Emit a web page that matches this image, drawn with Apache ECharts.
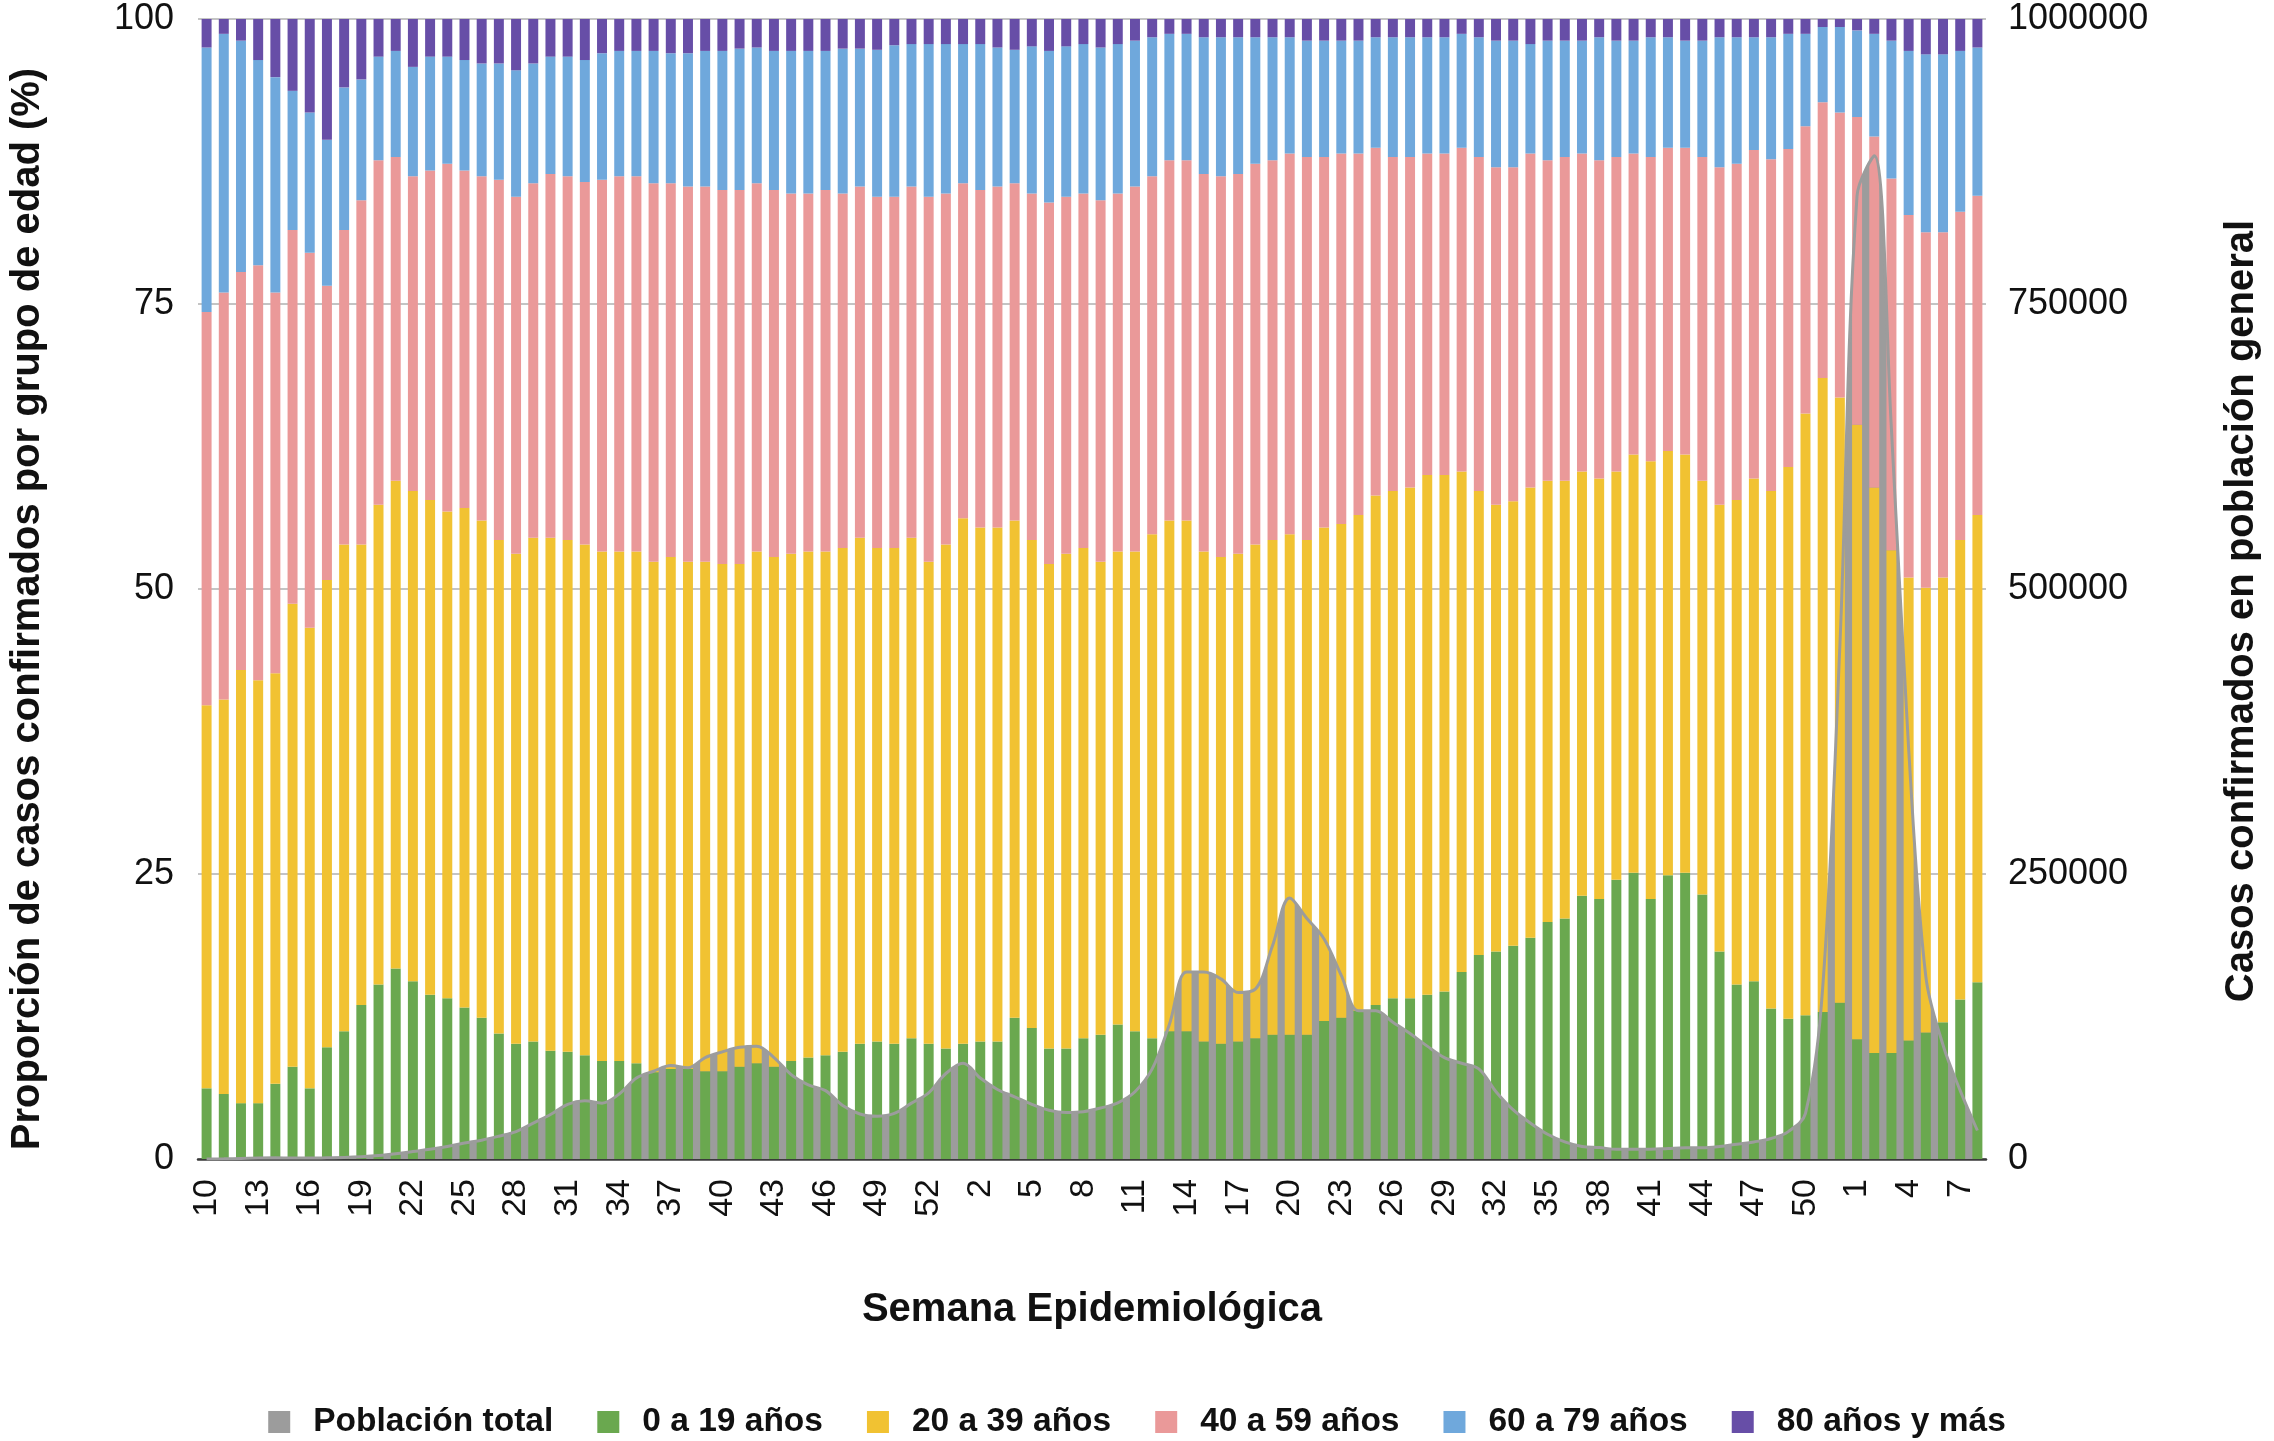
<!DOCTYPE html>
<html><head><meta charset="utf-8">
<script src="https://cdn.jsdelivr.net/npm/echarts@6/dist/echarts.min.js"></script>
<style>html,body{margin:0;padding:0;background:#fff}#c{width:2274px;height:1441px}</style>
</head><body><div id="c"></div>
<script>
// Epidemiological weeks (2020: 10-53, 2021: 1-52, 2022: 1-8)
const weeks2020 = [10,11,12,13,14,15,16,17,18,19,20,21,22,23,24,25,26,27,28,29,30,31,32,33,34,35,36,37,38,39,40,41,42,43,44,45,46,47,48,49,50,51,52,53];
const weeks2021 = [1,2,3,4,5,6,7,8,9,10,11,12,13,14,15,16,17,18,19,20,21,22,23,24,25,26,27,28,29,30,31,32,33,34,35,36,37,38,39,40,41,42,43,44,45,46,47,48,49,50,51,52];
const weeks2022 = [1,2,3,4,5,6,7,8];

// Proportion of confirmed cases by age group (%)
const age0_19 = [6.2,5.7,4.9,4.9,6.6,8.1,6.2,9.8,11.2,13.5,15.3,16.7,15.6,14.4,14.1,13.3,12.4,11.0,10.1,10.3,9.5,9.4,9.1,8.6,8.6,8.4,7.6,7.9,7.9,7.7,7.7,8.1,8.4,8.1,8.6,8.9,9.1,9.4,10.1,10.3,10.1,10.6,10.1,9.7,
  10.1,10.3,10.3,12.4,11.5,9.7,9.7,10.6,10.9,11.8,11.2,10.6,11.2,11.2,10.3,10.1,10.3,10.6,10.9,10.9,10.9,12.1,12.4,13.0,13.5,14.1,14.1,14.4,14.7,16.4,17.9,18.2,18.7,19.4,20.8,21.1,23.1,22.8,24.5,25.1,22.8,24.9,25.1,23.2,18.2,15.3,15.6,13.2,12.3,12.6,12.9,13.7,
  10.5,9.3,9.3,10.4,11.1,12.0,14.0,15.5];
const age20_39 = [33.6,34.6,38.0,37.1,36.0,40.6,40.4,41.0,42.7,40.4,42.1,42.8,43.0,43.4,42.7,43.8,43.6,43.3,43.0,44.2,45.0,44.9,44.8,44.7,44.7,44.9,44.8,44.9,44.5,44.7,44.5,44.1,44.9,44.7,44.5,44.4,44.2,44.2,44.4,43.3,43.5,43.9,42.3,44.2,
  46.1,45.1,45.1,43.6,42.8,42.5,43.4,43.0,41.5,41.5,42.1,44.2,44.8,44.8,43.0,42.7,42.8,43.3,43.4,43.9,43.4,43.3,43.3,43.5,44.7,44.5,44.8,45.6,45.3,43.9,40.7,39.2,39.0,39.5,38.7,38.4,37.2,36.9,35.8,36.7,38.4,37.2,36.7,36.3,39.2,42.5,44.1,45.4,48.4,52.8,55.6,53.1,
  53.9,49.6,44.1,40.6,39.0,39.0,40.3,41.0];
const age40_59 = [34.5,35.7,34.9,36.4,33.4,32.8,32.9,25.8,27.6,30.2,30.2,28.4,27.6,28.9,30.5,29.6,30.2,31.6,31.3,31.1,31.9,31.9,31.8,32.6,32.9,32.9,33.2,32.8,32.9,32.9,32.8,32.8,32.3,32.2,31.6,31.4,31.7,31.1,30.8,30.8,30.8,30.8,32.0,30.8,
  29.4,29.6,29.9,29.6,30.4,31.7,31.3,31.1,31.7,31.4,32.0,31.4,31.6,31.6,33.1,33.4,33.3,33.4,33.3,33.4,33.6,32.5,32.5,31.7,30.5,29.3,29.0,28.2,28.2,28.4,29.3,29.6,29.3,29.3,28.1,28.4,27.9,27.9,27.6,26.4,26.7,26.6,26.9,28.4,29.6,29.5,28.8,29.1,27.9,25.2,24.2,25.0,
  27.0,30.8,32.6,31.8,31.2,30.3,28.8,28.0];
const age60_79 = [23.2,22.7,20.3,18.0,18.9,12.2,12.3,12.8,12.5,10.6,9.1,9.3,9.6,10.0,9.4,9.7,9.9,10.2,11.1,10.5,10.3,10.5,10.7,11.1,11.0,11.0,11.6,11.4,11.7,11.9,12.2,12.4,11.9,12.2,12.5,12.5,12.2,12.7,12.1,12.9,13.3,12.5,13.4,13.1,
  12.2,12.8,12.2,11.7,12.9,13.3,13.2,13.1,13.4,13.1,12.8,12.2,11.1,11.1,12.0,12.2,12.0,11.1,10.8,10.2,10.2,10.2,9.9,9.9,9.7,10.5,10.5,10.2,10.2,10.0,10.5,11.1,11.1,9.6,10.5,10.2,9.9,10.8,10.2,9.9,10.5,9.7,9.4,10.2,11.4,11.1,9.9,10.7,10.1,8.1,6.6,7.5,
  7.6,9.0,12.1,14.4,15.6,15.6,14.1,13.0];
const age80plus = [2.5,1.3,1.9,3.6,5.1,6.3,8.2,10.6,6.0,5.3,3.3,2.8,4.2,3.3,3.3,3.6,3.9,3.9,4.5,3.9,3.3,3.3,3.6,3.0,2.8,2.8,2.8,3.0,3.0,2.8,2.8,2.6,2.5,2.8,2.8,2.8,2.8,2.6,2.6,2.7,2.3,2.2,2.2,2.2,
  2.2,2.2,2.5,2.7,2.4,2.8,2.4,2.2,2.5,2.2,1.9,1.6,1.3,1.3,1.6,1.6,1.6,1.6,1.6,1.6,1.9,1.9,1.9,1.9,1.6,1.6,1.6,1.6,1.6,1.3,1.6,1.9,1.9,2.2,1.9,1.9,1.9,1.6,1.9,1.9,1.6,1.6,1.9,1.9,1.6,1.6,1.6,1.6,1.3,1.3,0.7,0.7,
  1.0,1.3,1.9,2.8,3.1,3.1,2.8,2.5];

// Confirmed cases in general population (weekly)
const totalCases = [20,150,500,900,1000,900,800,1100,1400,2000,3000,4600,6600,8500,11000,14000,16500,20000,24000,31500,39000,48000,51000,49000,57000,71000,77000,82000,80000,89000,94000,98000,99000,89000,74000,65000,60000,47000,39500,37500,40000,49000,58000,75000,
  84000,71000,61000,54600,48000,42800,40800,41500,44700,49300,59000,79000,118000,164000,164000,158000,146000,149000,187000,229000,211000,193000,161000,130000,130000,120000,110000,99000,89000,84000,79000,59000,43000,31500,21700,15000,11000,10000,8500,8500,8500,9200,9900,9900,11000,13000,15000,18000,24000,40000,150000,450000,
  845000,880000,640000,360000,160000,100000,60000,25000];

const leftTicks = [0,25,50,75,100];
const rightTicks = [0,250000,500000,750000,1000000];

const categories = weeks2020.concat(weeks2021, weeks2022).map(String);

const FONT = "'Liberation Sans', Arial, Helvetica, sans-serif";
const C = {gray:'#9c9c9c', green:'#6aa84f', yellow:'#f1c232', pink:'#ea9999', blue:'#6fa8dc', purple:'#674ea7'};

const chart = echarts.init(document.getElementById('c'), null, {renderer:'canvas'});
const barCommon = {type:'bar', stack:'age', barWidth:'58%', z:2, yAxisIndex:0, animation:false};

chart.setOption({
  animation:false,
  textStyle:{fontFamily:FONT},
  grid:{left:198, top:19, width:1788, height:1140, containLabel:false},
  legend:{
    top:1400, left:'center', itemWidth:22, itemHeight:22, itemGap:44, icon:'rect',
    textStyle:{fontFamily:FONT, fontSize:33.5, fontWeight:'bold', color:'#111', padding:[0,0,0,18]},
    data:['Población total','0 a 19 años','20 a 39 años','40 a 59 años','60 a 79 años','80 años y más']
  },
  xAxis:{
    type:'category', data:categories, boundaryGap:true,
    axisLine:{show:true, lineStyle:{color:'#3a3a3a', width:2.5}},
    axisTick:{show:false},
    axisLabel:{interval:2, rotate:90, margin:20, fontSize:34, color:'#111', fontFamily:FONT},
    splitLine:{show:false}
  },
  yAxis:[
    {type:'value', min:0, max:100, interval:25,
      axisLine:{show:false}, axisTick:{show:false},
      axisLabel:{fontSize:36, color:'#111', margin:24, fontFamily:FONT,
        formatter:function(v){return leftTicks.indexOf(v)>=0?String(v):'';}},
      splitLine:{show:true, lineStyle:{color:'#c4c4c4', width:2}}},
    {type:'value', min:0, max:1000000, interval:250000, position:'right',
      axisLine:{show:false}, axisTick:{show:false},
      axisLabel:{fontSize:36, color:'#111', margin:22, fontFamily:FONT,
        formatter:function(v){return rightTicks.indexOf(v)>=0?String(v):'';}},
      splitLine:{show:false}}
  ],
  graphic:[
    {type:'text', x:28, y:609, rotation:Math.PI/2,
      style:{text:'Proporción de casos confirmados por grupo de edad (%)', font:'bold 40px '+FONT, fill:'#111', align:'center', verticalAlign:'middle'}},
    {type:'text', x:2242, y:611, rotation:Math.PI/2,
      style:{text:'Casos confirmados en población general', font:'bold 40px '+FONT, fill:'#111', align:'center', verticalAlign:'middle'}},
    {type:'text', x:1092, y:1310,
      style:{text:'Semana Epidemiológica', font:'bold 40px '+FONT, fill:'#111', align:'center', verticalAlign:'middle'}}
  ],
  series:[
    {name:'Población total', type:'line', yAxisIndex:1, data:totalCases, smooth:0.35, symbol:'none', z:1,
      lineStyle:{width:0, color:C.gray}, itemStyle:{color:C.gray}, areaStyle:{color:C.gray, opacity:1}},
    Object.assign({name:'0 a 19 años', data:age0_19, itemStyle:{color:C.green}}, barCommon),
    Object.assign({name:'20 a 39 años', data:age20_39, itemStyle:{color:C.yellow}}, barCommon),
    Object.assign({name:'40 a 59 años', data:age40_59, itemStyle:{color:C.pink}}, barCommon),
    Object.assign({name:'60 a 79 años', data:age60_79, itemStyle:{color:C.blue}}, barCommon),
    Object.assign({name:'80 años y más', data:age80plus, itemStyle:{color:C.purple}}, barCommon),
    {name:'Población total', type:'line', yAxisIndex:1, data:totalCases, smooth:0.35, symbol:'none', z:3,
      lineStyle:{width:3, color:C.gray}, itemStyle:{color:C.gray}}
  ]
});
</script></body></html>
